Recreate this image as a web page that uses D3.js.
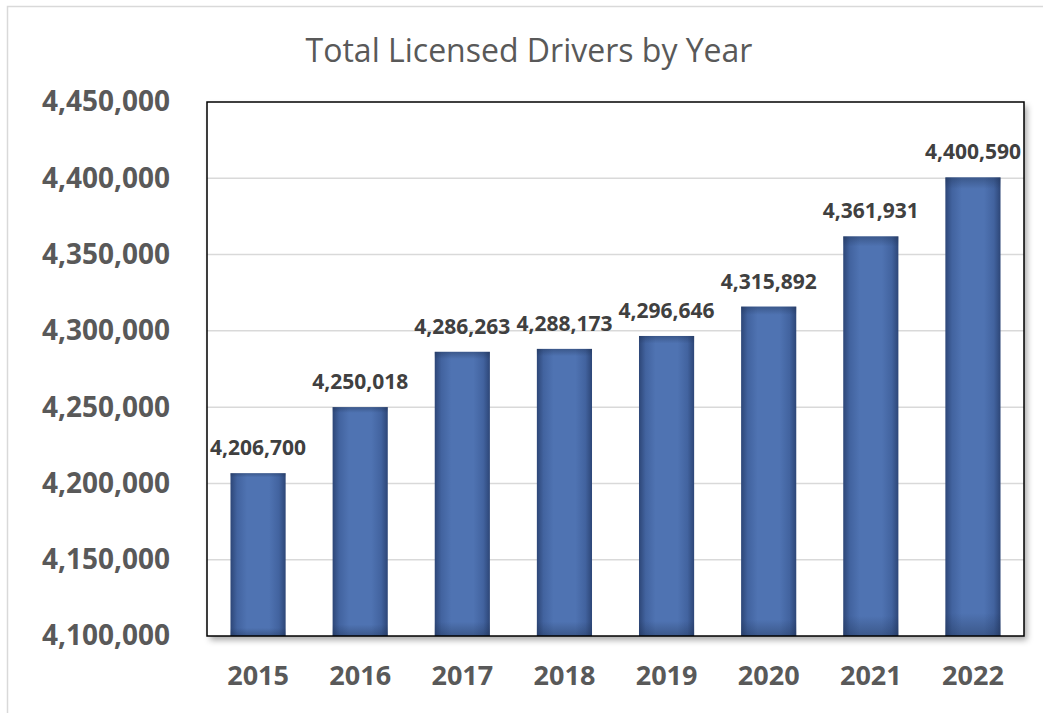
<!DOCTYPE html>
<html><head><meta charset="utf-8">
<script src="https://cdn.jsdelivr.net/npm/d3@7"></script>
<style>html,body{margin:0;padding:0;background:#fff;}svg{display:block;}</style>
</head><body>
<script>
const years = ["2015","2016","2017","2018","2019","2020","2021","2022"];
const drivers = [4206700, 4250018, 4286263, 4288173, 4296646, 4315892, 4361931, 4400590];
const yTicks = [4100000, 4150000, 4200000, 4250000, 4300000, 4350000, 4400000, 4450000];
const title = "Total Licensed Drivers by Year";

const W = 1043, H = 713;
const m = {left: 207, top: 102, right: 1024, bottom: 636};
const svg = d3.select("body").append("svg").attr("width", W).attr("height", H);
const defs = svg.append("defs");

const hg = defs.append("linearGradient").attr("id","hg").attr("x1","0").attr("x2","1").attr("y1","0").attr("y2","0");
[[0,"#2d4677"],[0.12,"#42639f"],[0.3,"#4f73b2"],[0.7,"#4f73b2"],[0.88,"#42639f"],[1,"#2d4677"]].forEach(s=>hg.append("stop").attr("offset",s[0]).attr("stop-color",s[1]));
const vg = defs.append("linearGradient").attr("id","vg").attr("gradientUnits","objectBoundingBox").attr("x1","0").attr("x2","0").attr("y1","0").attr("y2","1");
[[0,"#1e3050",0.4],[0.025,"#1e3050",0.0],[0.95,"#1e3050",0.0],[1,"#1e3050",0.4]].forEach(s=>vg.append("stop").attr("offset",s[0]).attr("stop-color",s[1]).attr("stop-opacity",s[2]));
const sh = defs.append("filter").attr("id","sh").attr("x","-5%").attr("y","-5%").attr("width","115%").attr("height","115%");
sh.append("feDropShadow").attr("dx",3).attr("dy",4).attr("stdDeviation",3).attr("flood-color","#000").attr("flood-opacity",0.35);

// outer chart border
svg.append("rect").attr("x",7.5).attr("y",6.5).attr("width",1200).attr("height",900)
  .attr("fill","#fff").attr("stroke","#d9d9d9").attr("stroke-width",1.5);

const x = d3.scaleBand().domain(years).range([m.left, m.right]).paddingInner(0.46).paddingOuter(0.23);
const y = d3.scaleLinear().domain([4100000, 4450000]).range([m.bottom, m.top]);

// plot area with shadow
svg.append("rect").attr("x",m.left).attr("y",m.top).attr("width",m.right-m.left).attr("height",m.bottom-m.top)
  .attr("fill","#fff").attr("filter","url(#sh)");

// gridlines
svg.append("g").selectAll("line").data(yTicks.slice(1,-1)).join("line")
  .attr("x1",m.left).attr("x2",m.right).attr("y1",d=>y(d)).attr("y2",d=>y(d))
  .attr("stroke","#d9d9d9").attr("stroke-width",1.5);

// y axis labels
const yAxis = d3.axisLeft(y).tickValues(yTicks).tickFormat(d3.format(",")).tickSize(0).tickPadding(37);
const ya = svg.append("g").attr("transform",`translate(${m.left},0)`).call(yAxis);
ya.select(".domain").remove();
ya.selectAll("text").attr("font-family","'Open Sans'").attr("font-weight","bold").attr("font-size",28).attr("fill","#595959");

// x axis labels
const xAxis = d3.axisBottom(x).tickSize(0).tickPadding(30);
const xa = svg.append("g").attr("transform",`translate(0,${m.bottom})`).call(xAxis);
xa.select(".domain").remove();
xa.selectAll("text").attr("font-family","'Open Sans'").attr("font-weight","bold").attr("font-size",27).attr("fill","#595959");

// bars
const bars = svg.append("g");
bars.selectAll("rect.b").data(years).join("rect").attr("class","b")
  .attr("x",d=>x(d)).attr("width",x.bandwidth())
  .attr("y",(d,i)=>y(drivers[i])).attr("height",(d,i)=>y(4100000)-y(drivers[i]))
  .attr("fill","url(#hg)");
bars.selectAll("rect.o").data(years).join("rect").attr("class","o")
  .attr("x",d=>x(d)).attr("width",x.bandwidth())
  .attr("y",(d,i)=>y(drivers[i])).attr("height",(d,i)=>y(4100000)-y(drivers[i]))
  .attr("fill","url(#vg)");

// data labels
svg.append("g").selectAll("text").data(years).join("text")
  .attr("x",d=>x(d)+x.bandwidth()/2).attr("y",(d,i)=>y(drivers[i])-18)
  .attr("text-anchor","middle").attr("font-family","'Open Sans'").attr("font-weight","bold")
  .attr("font-size",21).attr("fill","#404040").text((d,i)=>d3.format(",")(drivers[i]));

// plot border
svg.append("rect").attr("x",m.left).attr("y",m.top).attr("width",m.right-m.left).attr("height",m.bottom-m.top)
  .attr("fill","none").attr("stroke","#000").attr("stroke-width",1.5);

// title
svg.append("text").attr("x",529).attr("y",62).attr("text-anchor","middle")
  .attr("font-family","'Open Sans'").attr("font-size",32).attr("fill","#595959").text(title);
</script>
</body></html>
